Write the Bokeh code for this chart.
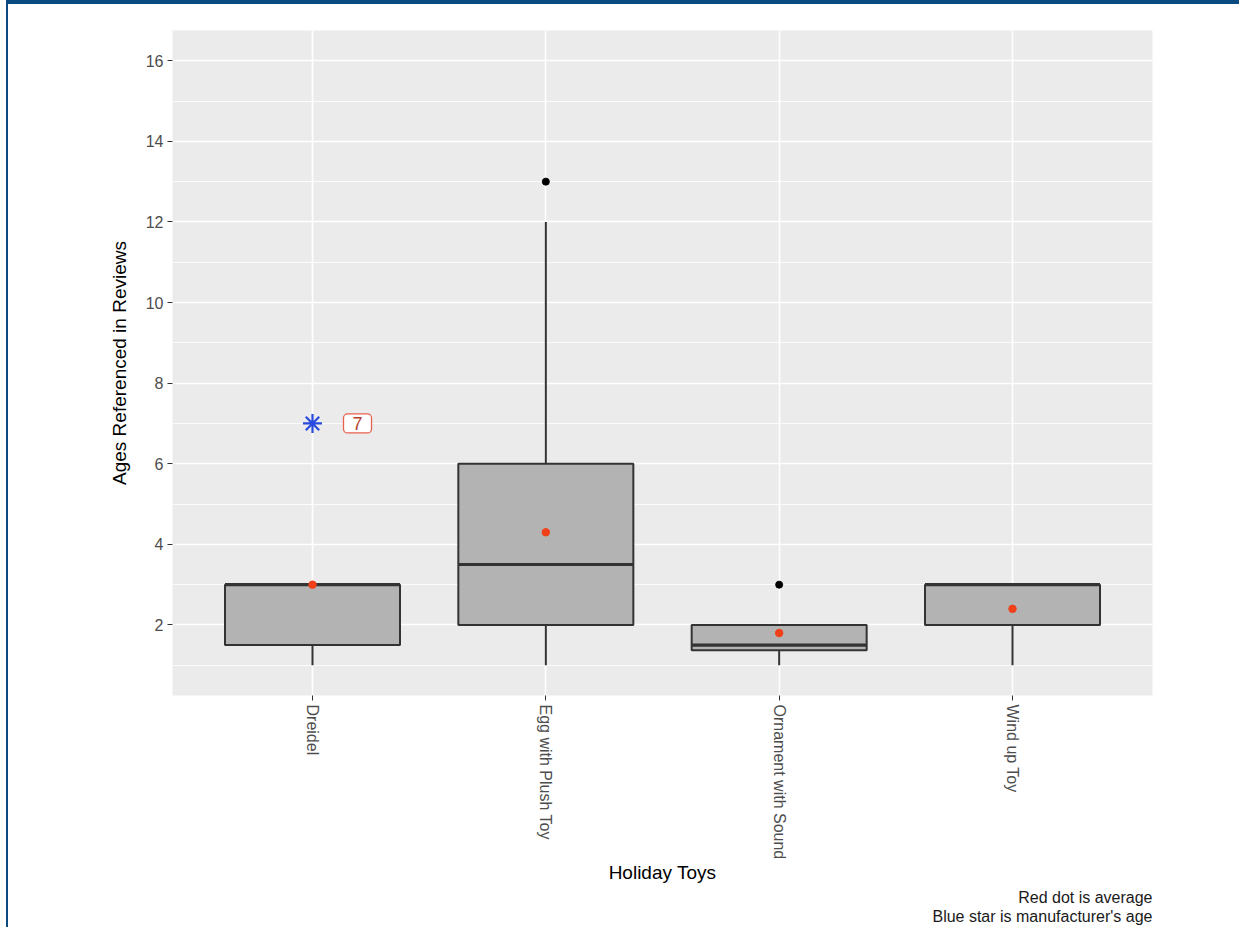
import math
from bokeh.plotting import figure
from bokeh.models import (FactorRange, Range1d, SingleIntervalTicker, Label, Title)
from bokeh.embed import file_html
from bokeh.resources import INLINE

# ---- data ----
toys = ["Dreidel", "Egg with Plush Toy", "Ornament with Sound", "Wind up Toy"]
lower = [1, 1, 1, 1]
q1 = [1.5, 2, 1.375, 2]
median = [3, 3.5, 1.5, 3]
q3 = [3, 6, 2, 3]
upper = [3, 12, 2, 3]
mean = [3.0, 4.3, 1.8, 2.4]
outlier_toy = ["Egg with Plush Toy", "Ornament with Sound"]
outlier_age = [13, 3]
star_toy = ["Dreidel"]
star_age = [7]

FONT = "Liberation Sans"
LINE = "#333333"

p = figure(width=1233, height=927, output_backend="svg", toolbar_location=None,
           x_range=FactorRange(factors=toys, range_padding=0.05),
           y_range=Range1d(0.25, 16.75),
           min_border_left=164, min_border_right=89,
           min_border_top=26, min_border_bottom=236,
           background_fill_color="#EBEBEB", border_fill_color="white",
           outline_line_color=None)
p.styles = {"margin-left": "6px",
            "border-top": "4px solid #0B4A80", "border-left": "2px solid #0B4A80"}

# grid
p.xgrid.grid_line_color = "white"
p.xgrid.grid_line_width = 1.6
p.ygrid.grid_line_color = "white"
p.ygrid.grid_line_width = 1.6
p.ygrid.minor_grid_line_color = "white"
p.ygrid.minor_grid_line_width = 0.8

# y axis
p.yaxis.ticker = SingleIntervalTicker(interval=2, num_minor_ticks=2)
p.yaxis.axis_line_color = None
p.yaxis.minor_tick_line_color = None
p.yaxis.major_tick_line_color = LINE
p.yaxis.major_tick_out = 5
p.yaxis.major_tick_in = 0
p.yaxis.major_label_text_color = "#4D4D4D"
p.yaxis.major_label_text_font = FONT
p.yaxis.major_label_text_font_size = "16px"
p.yaxis.major_label_standoff = 4
p.yaxis.axis_label = "Ages Referenced in Reviews"
p.yaxis.axis_label_text_font = FONT
p.yaxis.axis_label_text_font_style = "normal"
p.yaxis.axis_label_text_font_size = "19px"
p.yaxis.axis_label_text_color = "black"
p.yaxis.axis_label_standoff = 13

# x axis
p.xaxis.axis_line_color = None
p.xaxis.major_tick_line_color = LINE
p.xaxis.major_tick_out = 5
p.xaxis.major_tick_in = 0
p.xaxis.major_label_orientation = -math.pi / 2
p.xaxis.major_label_text_color = "#4D4D4D"
p.xaxis.major_label_text_font = FONT
p.xaxis.major_label_text_font_size = "16px"
p.xaxis.major_label_standoff = 4
p.xaxis.axis_label = "Holiday Toys"
p.xaxis.axis_label_text_font = FONT
p.xaxis.axis_label_text_font_style = "normal"
p.xaxis.axis_label_text_font_size = "19px"
p.xaxis.axis_label_text_color = "black"
p.xaxis.axis_label_standoff = 0

# whiskers
p.segment(x0=toys, y0=q3, x1=toys, y1=upper, line_color=LINE, line_width=2)
p.segment(x0=toys, y0=lower, x1=toys, y1=q1, line_color=LINE, line_width=2)
# boxes
p.vbar(x=toys, bottom=q1, top=q3, width=0.75, fill_color="#B3B3B3",
       line_color=LINE, line_width=2)
# medians
p.segment(x0=[i + 0.5 - 0.375 for i in range(len(toys))], y0=median,
          x1=[i + 0.5 + 0.375 for i in range(len(toys))], y1=median,
          line_color=LINE, line_width=3.2)
# outliers
p.scatter(x=outlier_toy, y=outlier_age, size=7, color="black")
# means
p.scatter(x=toys, y=mean, size=7.5, color="#F0401A")
# manufacturer's age
p.scatter(x=star_toy, y=star_age, marker="asterisk", size=19,
          line_color="#2A4BE0", line_width=2.2)
for t, a in zip(star_toy, star_age):
    p.add_layout(Label(x=toys.index(t) + 0.5, y=a, text=str(a), x_offset=31,
                       text_align="left", text_baseline="middle",
                       text_font=FONT, text_font_size="18px", text_color="#B5402F",
                       background_fill_color="white", border_line_color="#E8604F",
                       border_line_width=1.3, padding=(9, 3), border_radius=4))

# caption
for txt in ["Red dot is average", "Blue star is manufacturer's age"]:
    p.add_layout(Title(text=txt, align="right", text_font=FONT,
                       text_font_size="16px", text_font_style="normal",
                       text_color="#1A1A1A", standoff=0), "below")

open("out.html", "w").write(file_html(p, INLINE))
